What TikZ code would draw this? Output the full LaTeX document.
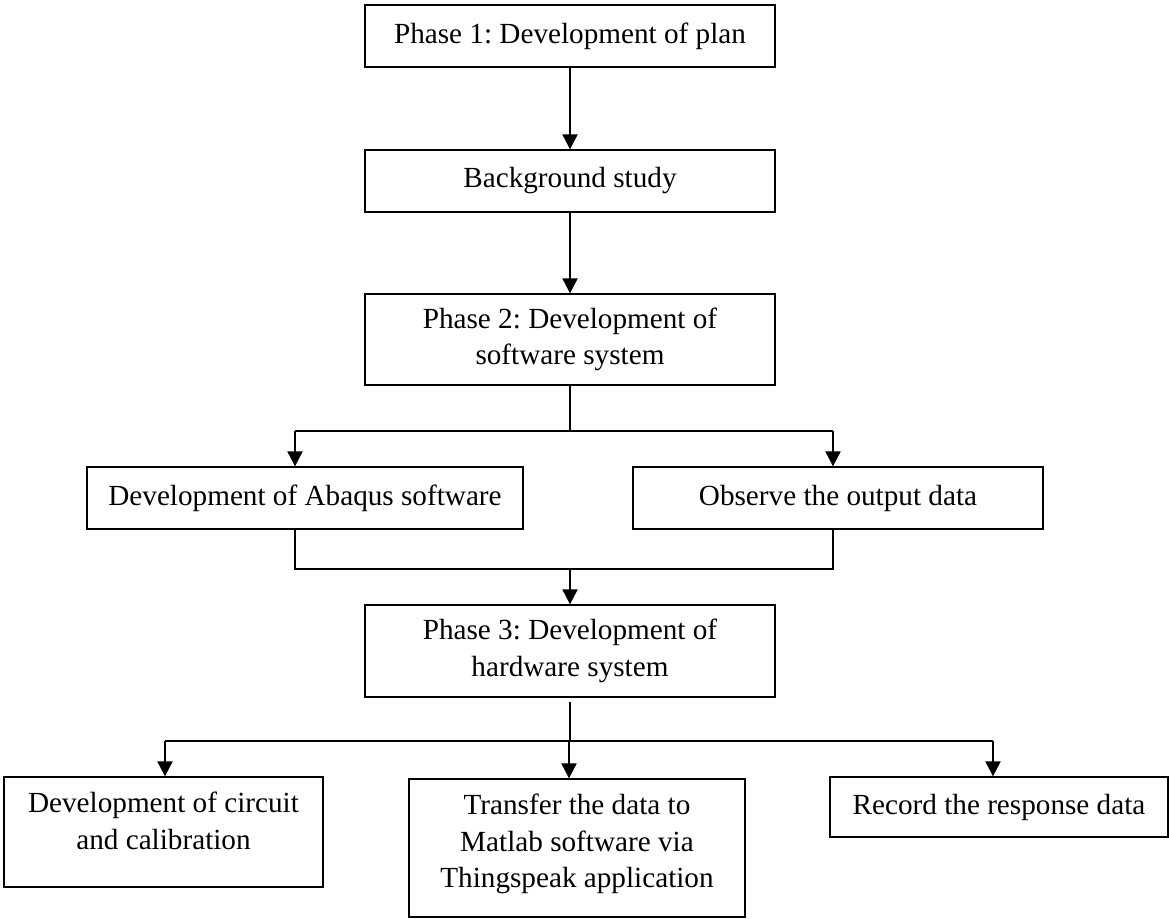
\documentclass[tikz,border=0pt]{standalone}
\usepackage{fontspec}
\setmainfont{Liberation Serif}
\usetikzlibrary{arrows.meta}
\frenchspacing
\begin{document}
\begin{tikzpicture}[x=1pt,y=-1pt,
  box/.style={draw, line width=1.3pt, inner sep=0pt, align=center,
    font=\fontsize{29.2}{36.5}\selectfont\frenchspacing},
  arr/.style={line width=2pt, -{Triangle[length=15pt,width=15pt]}},
  link/.style={line width=1.2pt}]
\useasboundingbox (0,0) rectangle (1169,918);

\node[box, minimum width=410pt, minimum height=62pt] (p1) at (570,36) {Phase 1: Development of plan};
\node[box, minimum width=410pt, minimum height=62pt] (bg) at (570,181) {Background study};
\node[box, minimum width=410pt, minimum height=91pt] (p2) at (570,339.5) {Phase 2: Development of\\software system};
\node[box, minimum width=436pt, minimum height=62pt] (ab) at (305,498) {Development of Abaqus software};
\node[box, minimum width=410pt, minimum height=62pt] (ob) at (838,498) {Observe the output data};
\node[box, minimum width=410pt, minimum height=92pt] (p3) at (570,651) {Phase 3: Development of\\hardware system};
\node[box, minimum width=319pt, minimum height=110pt] (c1) at (163.5,832)
  {\raisebox{8.5pt}[\height][\depth]{\begin{tabular}{@{}c@{}}Development of circuit\\and calibration\end{tabular}}};
\node[box, minimum width=336pt, minimum height=138pt] (c2) at (577,848)
  {\raisebox{4pt}[\height][\depth]{\begin{tabular}{@{}c@{}}Transfer the data to\\Matlab software via\\Thingspeak application\end{tabular}}};
\node[box, minimum width=338pt, minimum height=60pt] (c3) at (999,807) {Record the response data};

\draw[arr] (p1.south) -- (bg.north);
\draw[arr] (bg.south) -- (p2.north);

\coordinate (bl) at (295,431);
\coordinate (br) at (833,431);
\draw[link] (p2.south) -- (p2.south |- bl);
\draw[link] (bl) -- (br);
\draw[arr] (bl) -- (bl |- ab.north);
\draw[arr] (br) -- (br |- ob.north);

\coordinate (ml) at (295,569);
\coordinate (mr) at (833,569);
\draw[link] (bl |- ab.south) -- (ml) -- (mr) -- (br |- ob.south);
\draw[arr] (p3.north |- ml) -- (p3.north);

\coordinate (dl) at (165,741);
\coordinate (dm) at (569,741);
\coordinate (dr) at (993,741);
\draw[link, shorten <=4.5pt] (p3.south) -- (p3.south |- dm);
\draw[link] (dl) -- (dr);
\draw[arr] (dl) -- (dl |- c1.north);
\draw[arr] (dm) -- (dm |- c2.north);
\draw[arr] (dr) -- (dr |- c3.north);
\end{tikzpicture}
\end{document}
